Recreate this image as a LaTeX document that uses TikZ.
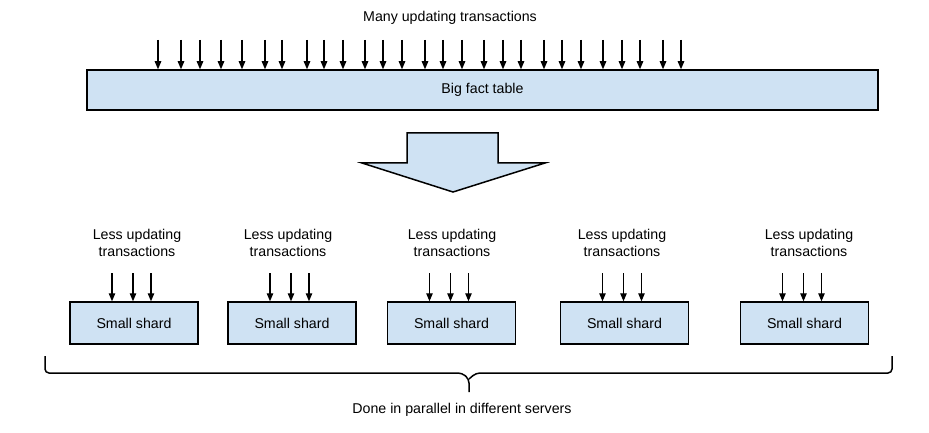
\documentclass[tikz,border=0pt]{standalone}
\usepackage{fontspec}
\setmainfont{Liberation Sans}
\usepackage{tikz}
\usetikzlibrary{arrows.meta,positioning,calc}
\definecolor{shardblue}{RGB}{207,226,243}

\begin{document}
\begin{tikzpicture}[x=1pt,y=-1pt,
    every node/.style={font=\fontsize{14.2}{16.5}\selectfont},
    box/.style={draw,line width=1.5pt,fill=shardblue,inner sep=0pt},
    arr/.style={-{Triangle[length=8pt,width=6.5pt]},line width=1.1pt}]
            \useasboundingbox (0,0) rectangle (929,433);

            % the big table and all its transactions
            \node (many) at (450,18) {Many updating transactions};
            \node[box,minimum width=791pt,minimum height=40pt] (big) at (482.5,90) {Big fact table};
            \foreach \x [count=\i] in {158,181,200,221,242,265,282,307,324,343,365,383,402,425,443,462,484,503,521,544,562,581,603,622,640,663,681}{
                \coordinate (t\i) at (\x,40);
                \draw[arr] (t\i) -- (t\i |- big.north);
            }

            % split arrow
            \draw[line width=1.5pt,fill=shardblue,line join=miter] (407,133) -- (498,133) -- (498,163) -- (545,163) -- (453,192) -- (362,163) -- (407,163) -- cycle;

            % the small shards
            \foreach \i/\x/\lx in {1/134/137,2/292/288,3/451.5/452,4/624.5/622,5/804.5/809}{
                \node[box,minimum width=128pt,minimum height=42pt] (s\i) at (\x,323) {Small shard};
                \node[align=center] (l\i) at (\lx,243) {Less updating\\transactions};
                \foreach \d [count=\j] in {-22,-1,17}{
                    \coordinate (a\i\j) at ({\x+(\d)},273);
                    \draw[arr] (a\i\j) -- (a\i\j |- s\i.north);
                }
            }

            % brace under the shards
            \draw[line width=1.5pt,rounded corners=4pt] (45,356) -- (45,373) -- (462,373) -- (469,379) -- (469,392);
            \draw[line width=1.5pt,rounded corners=4pt] (469,379) -- (476,373) -- (892,373) -- (892,356);
            \node (done) at (462,410) {Done in parallel in different servers};
\end{tikzpicture}
\end{document}
